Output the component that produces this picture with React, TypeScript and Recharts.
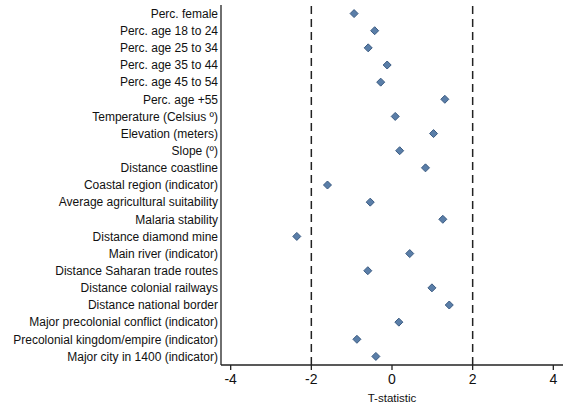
import { ScatterChart, Scatter, XAxis, YAxis, ReferenceLine } from "recharts";

const variables = [
  "Perc. female",
  "Perc. age 18 to 24",
  "Perc. age 25 to 34",
  "Perc. age 35 to 44",
  "Perc. age 45 to 54",
  "Perc. age +55",
  "Temperature (Celsius º)",
  "Elevation (meters)",
  "Slope (º)",
  "Distance coastline",
  "Coastal region (indicator)",
  "Average agricultural suitability",
  "Malaria stability",
  "Distance diamond mine",
  "Main river (indicator)",
  "Distance Saharan trade routes",
  "Distance colonial railways",
  "Distance national border",
  "Major precolonial conflict (indicator)",
  "Precolonial kingdom/empire (indicator)",
  "Major city in 1400 (indicator)",
];

const tStats = [
  -0.94, -0.43, -0.59, -0.12, -0.28, 1.31, 0.08, 1.03, 0.19, 0.83, -1.6,
  -0.54, 1.26, -2.36, 0.44, -0.6, 0.99, 1.42, 0.17, -0.87, -0.4,
];

const xTicks = [-4, -2, 0, 2, 4];
const criticalValues = [-2, 2];

const data = variables.map((name, i) => ({ name, t: tStats[i] }));

const font = "Liberation Sans, Arial, sans-serif";

const Diamond = (props: any) => {
  const { cx, cy } = props;
  const r = 4;
  return (
    <polygon
      points={`${cx},${cy - r} ${cx + r},${cy} ${cx},${cy + r} ${cx - r},${cy}`}
      fill="#5a7ea8"
      stroke="#3b5b82"
      strokeWidth={1}
    />
  );
};

const VarTick = (props: any) => {
  const { x, y, payload } = props;
  return (
    <text x={x} y={y} dy="0.36em" textAnchor="end" fontSize={12} fill="#111" fontFamily={font}>
      {payload.value}
    </text>
  );
};

export default function App() {
  return (
    <div style={{ position: "absolute", left: 0, top: 0, background: "#fff" }}>
      <ScatterChart width={564} height={408} margin={{ top: 5, right: 1, bottom: 0, left: 0 }}>
        <XAxis
          type="number"
          dataKey="t"
          domain={[-4.24, 4.24]}
          ticks={xTicks}
          allowDataOverflow
          tick={{ fontSize: 14, fill: "#111", fontFamily: font }}
          tickSize={5}
          tickMargin={4}
          axisLine={{ stroke: "#222", strokeWidth: 1.3 }}
          tickLine={{ stroke: "#222", strokeWidth: 1.3 }}
          height={43}
          label={{
            value: "T-statistic",
            position: "insideBottom",
            offset: 6,
            style: { fontSize: 11.5, fill: "#111", fontFamily: font },
          }}
        />
        <YAxis
          type="category"
          dataKey="name"
          reversed
          interval={0}
          width={221}
          tickSize={0}
          tickMargin={3}
          tickLine={false}
          axisLine={{ stroke: "#222", strokeWidth: 1.3 }}
          tick={<VarTick />}
        />
        {criticalValues.map((v) => (
          <ReferenceLine key={v} x={v} stroke="#222" strokeWidth={1.5} strokeDasharray="8 5" />
        ))}
        <Scatter data={data} shape={<Diamond />} isAnimationActive={false} />
      </ScatterChart>
    </div>
  );
}
